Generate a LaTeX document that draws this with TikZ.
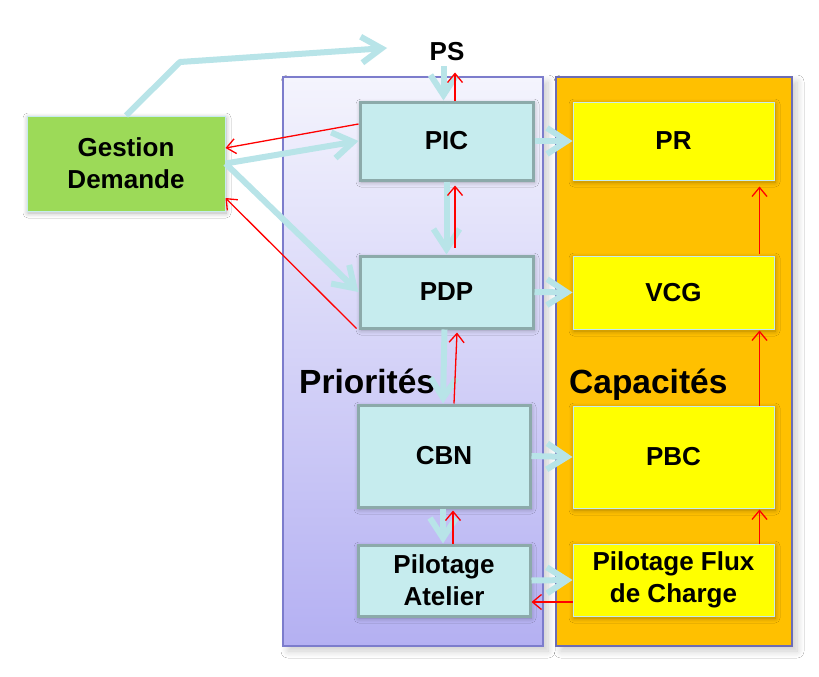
\documentclass[tikz,border=0pt]{standalone}
\usepackage{fontspec}
\setmainfont{Liberation Sans}
\usetikzlibrary{arrows.meta,shadows.blur}
\definecolor{cyanfill}{HTML}{C6ECEE}
\definecolor{cyanborder}{HTML}{8CAAAA}
\definecolor{arrowcyan}{HTML}{B8E4E8}
\definecolor{gdgreen}{HTML}{9CDA58}
\definecolor{capor}{HTML}{FFC000}
\definecolor{capborder}{HTML}{6C6CB4}
\definecolor{priborder}{HTML}{7C7CCC}
\definecolor{pritop}{HTML}{F4F4FD}
\definecolor{pribot}{HTML}{B4B0F2}
\definecolor{ylw}{HTML}{FFFF00}
\begin{document}
\begin{tikzpicture}[x=1pt,y=-1pt,
  lbl/.style={font=\fontsize{26}{32}\selectfont\bfseries, align=center, text=black, inner sep=0pt},
  softsh/.style={blur shadow={shadow xshift=1pt, shadow yshift=-2pt, shadow blur radius=5pt, shadow blur steps=8, shadow opacity=30}},
  pribox/.style={lbl, rectangle, draw=cyanborder, line width=3pt, fill=cyanfill, softsh},
  capbox/.style={lbl, rectangle, draw=cyanfill, line width=1pt, fill=ylw, softsh},
  panel/.style={rectangle, line width=1.3pt, inner sep=0pt,
    blur shadow={shadow xshift=5pt, shadow yshift=-5pt, shadow blur radius=7pt, shadow blur steps=10, shadow opacity=20}},
  title/.style={font=\fontsize{33.5}{36}\selectfont\bfseries, text=black, inner sep=0pt, anchor=base west},
  flow/.style={draw=arrowcyan, line width=6pt, line join=round, -{Straight Barb[length=20pt,width=26pt]}},
  fb/.style={draw=red, line width=1.3pt, -{Straight Barb[length=9pt,width=15pt]}},
]
\useasboundingbox (0,0) rectangle (819,677);
\fill[white] (0,0) rectangle (819,677);

% panels
\node[panel, draw=priborder, top color=pritop, bottom color=pribot,
      minimum width=260pt, minimum height=569pt] (pri) at (413,361.5) {};
\node[panel, draw=capborder, fill=capor,
      minimum width=236pt, minimum height=569pt] (cap) at (674,361.5) {};
\node[title] (tpri) at (299,393) {Priorités};
\node[title] (tcap) at (569,393) {Capacités};

% boxes
\node[lbl, rectangle, fill=gdgreen, draw=cyanfill, line width=1pt, softsh,
      minimum width=198pt, minimum height=95pt] (GD) at (126,163.5) {Gestion\\Demande};
\node[lbl] (PS) at (447,52) {PS};
\node[pribox, minimum width=173pt, minimum height=78pt] (PIC) at (446.5,141) {PIC};
\node[pribox, minimum width=173pt, minimum height=72pt] (PDP) at (446.5,292) {PDP};
\node[pribox, minimum width=172pt, minimum height=102pt] (CBN) at (444,456) {CBN};
\node[pribox, minimum width=172pt, minimum height=71pt] (PA) at (444,580.5) {Pilotage\\Atelier};
\node[capbox, minimum width=201pt, minimum height=78pt] (PR) at (673.5,141) {PR};
\node[capbox, minimum width=201pt, minimum height=73pt] (VCG) at (673.5,292.5) {VCG};
\node[capbox, minimum width=201pt, minimum height=102pt] (PBC) at (673.5,457) {PBC};
\node[capbox, minimum width=201pt, minimum height=72pt] (PFC) at (673.5,580) {Pilotage Flux\\de Charge};

% flow arrows
\coordinate (bend) at (180,62);
\coordinate (psin) at (387,48);
\draw[flow] (GD.north) -- (bend) -- (psin);
\draw[flow] ([xshift=-3pt,yshift=34pt]PIC.north) -- ([xshift=-3pt]PIC.north);
\draw[flow] (GD.east) -- (PIC.west);
\draw[flow] (GD.east) -- (PDP.west);
\draw[flow] (PIC.south) -- (PDP.north);
\draw[flow] ([xshift=-2pt]PDP.south) -- ([xshift=-1pt]CBN.north);
\draw[flow] ([xshift=-1pt]CBN.south) -- ([xshift=-1pt]PA.north);
\draw[flow] (PIC.east) -- (PR.west);
\draw[flow] (PDP.east) -- (VCG.west);
\draw[flow] (CBN.east) -- (PBC.west);
\draw[flow] (PA.east) -- (PFC.west);

% feedback arrows
\draw[fb] ([xshift=8.5pt]PIC.north) -- ([xshift=8.5pt,yshift=28pt]PIC.north);
\draw[fb] ([yshift=17pt]PIC.west) -- ([yshift=15.5pt]GD.east);
\draw[fb] ([xshift=-2pt,yshift=1pt]PDP.south west) -- ([yshift=-34.5pt]GD.east);
\draw[fb] ([xshift=8.5pt,yshift=7pt]PDP.north) -- ([xshift=8.5pt,yshift=-4pt]PIC.south);
\draw[fb] ([xshift=10pt]CBN.north) -- ([xshift=10.5pt,yshift=-3pt]PDP.south);
\draw[fb] ([xshift=9pt]PA.north) -- ([xshift=9pt,yshift=-2pt]CBN.south);
\draw[fb] ([yshift=-22pt]PFC.west) -- ([yshift=-21.5pt]PA.east);
\draw[fb] ([xshift=-15pt]PFC.north east) -- ([xshift=-15pt,yshift=-1pt]PBC.south east);
\draw[fb] ([xshift=-15pt]PBC.north east) -- ([xshift=-15pt,yshift=-1pt]VCG.south east);
\draw[fb] ([xshift=-15pt,yshift=2pt]VCG.north east) -- ([xshift=-15pt,yshift=-6pt]PR.south east);
\end{tikzpicture}
\end{document}
